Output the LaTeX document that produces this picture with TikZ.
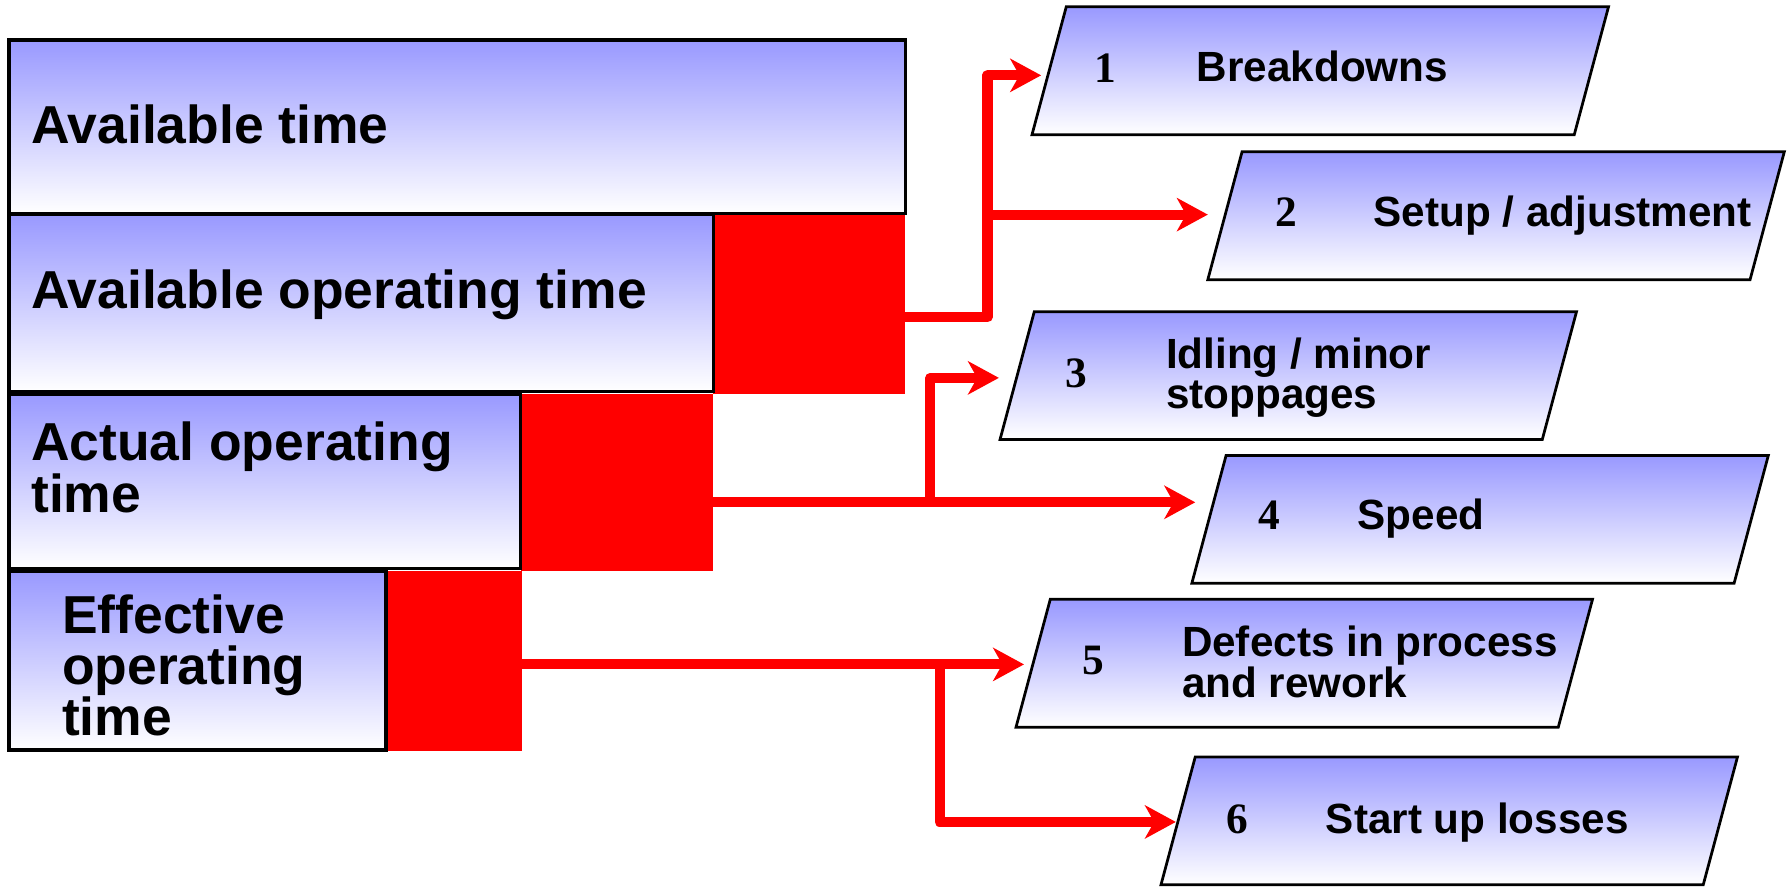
\documentclass[tikz,border=0pt]{standalone}
\usepackage{fontspec}
\setmainfont{Liberation Sans}
\newfontfamily\numfont{Liberation Serif}
\usetikzlibrary{arrows.meta}
\definecolor{boxblue}{RGB}{153,153,255}
\definecolor{boxmid}{RGB}{208,208,255}
\definecolor{lossred}{RGB}{255,0,0}
\newcommand\mypara[3]{%
  \path[pbox] (#2,-#3) -- ++(475,0) -- ++(30,112) -- ++(-475,0) -- cycle;
  \coordinate (#1) at (#2,-#3);
}
\begin{document}
\begin{tikzpicture}[x=0.5pt,y=0.5pt,
  lbox/.style={draw=black, line width=1.5pt, top color=boxblue, middle color=boxmid, bottom color=white},
  pbox/.style={draw=black, line width=1.2pt, top color=boxblue, middle color=boxmid, bottom color=white},
  lossblk/.style={fill=lossred},
  conn/.style={draw=lossred, line width=4.4pt, line join=round,
    -{Stealth[length=13.5pt,width=14.5pt,inset=4pt]}},
  bigtxt/.style={font=\fontsize{23.4}{23.4}\selectfont\bfseries, anchor=base west, inner sep=0pt},
  smalltxt/.style={font=\fontsize{18.5}{18.5}\selectfont\bfseries, anchor=base west, inner sep=0pt},
  numtxt/.style={font=\numfont\fontsize{19}{19}\selectfont\bfseries, anchor=base west, inner sep=0pt}]
\useasboundingbox (0,0) rectangle (1568,-777);

% red loss blocks
\path[lossblk] (625,-187) rectangle (793,-345);
\path[lossblk] (456,-345) rectangle (625,-500);
\path[lossblk] (338,-500) rectangle (457,-658);

% left time boxes
\path[lbox] (8,-35) rectangle (793,-187);
\path[lbox] (8,-188) rectangle (625,-343);
\path[lbox] (8,-345) rectangle (456,-498);
\path[lbox] (8,-500) rectangle (338,-657);

\node[bigtxt] (tA) at (27,-126) {Available time};
\node[bigtxt] (tB) at (27,-270) {Available operating time};
\node[bigtxt] (tC1) at (27,-403.5) {Actual operating};
\node[bigtxt] (tC2) at (27,-448.5) {time};
\node[bigtxt] (tD1) at (54,-554.6) {Effective};
\node[bigtxt] (tD2) at (54,-600) {operating};
\node[bigtxt] (tD3) at (54,-644) {time};

% parallelograms
\mypara{p1}{904}{118}
\mypara{p2}{1058}{245}
\mypara{p3}{876}{385}
\mypara{p4}{1044}{511}
\mypara{p5}{890}{637}
\mypara{p6}{1017}{775}

\node[numtxt] (n1) at (958,-72) {1};
\node[smalltxt] (l1) at (1048,-71.5) {Breakdowns};
\node[numtxt] (n2) at (1117,-198.6) {2};
\node[smalltxt] (l2) at (1203,-198.6) {Setup / adjustment};
\node[numtxt] (n3) at (933,-339) {3};
\node[smalltxt] (l3a) at (1021,-323) {Idling / minor};
\node[smalltxt] (l3b) at (1021,-357.6) {stoppages};
\node[numtxt] (n4) at (1102,-463.6) {4};
\node[smalltxt] (l4) at (1189,-463.6) {Speed};
\node[numtxt] (n5) at (948,-591) {5};
\node[smalltxt] (l5a) at (1035,-575.4) {Defects in process};
\node[smalltxt] (l5b) at (1035,-610.7) {and rework};
\node[numtxt] (n6) at (1074,-729.8) {6};
\node[smalltxt] (l6) at (1161,-729.8) {Start up losses};

% connector coordinates
\coordinate (rbOut) at (793,-278);
\coordinate (jB) at (865,-278);
\coordinate (jB2) at (865,-188);
\coordinate (t1) at (912,-66);
\coordinate (t2) at (1058,-188);
\coordinate (rcOut) at (625,-440);
\coordinate (jC) at (815,-440);
\coordinate (t3) at (875,-331);
\coordinate (t4) at (1047,-440);
\coordinate (rdOut) at (457,-582);
\coordinate (jD) at (823,-582);
\coordinate (t5) at (897,-582);
\coordinate (t6) at (1030,-720);

\draw[conn] (rbOut) -- (jB) |- (t1);
\draw[conn] (jB2) -- (t2);
\draw[conn] (rcOut) -- (t4);
\draw[conn] (jC) |- (t3);
\draw[conn] (rdOut) -- (t5);
\draw[conn] (jD) |- (t6);
\end{tikzpicture}
\end{document}
